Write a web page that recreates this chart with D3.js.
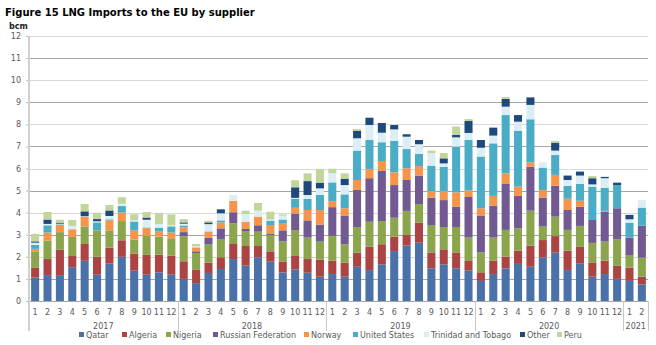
<!DOCTYPE html>
<html lang="en">
<head>
    <meta charset="UTF-8">
    <title>LNG Imports to the EU by supplier</title>
    <script src="https://d3js.org/d3.v7.min.js"></script>
    <style>
        body {
            margin: 0;
            padding: 0;
            background: #fff;
            overflow: hidden;
        }
        text {
            font-family: "DejaVu Sans", Verdana, sans-serif;
        }
        .tick-label {
            font-size: 8px;
            fill: #595959;
        }
    </style>
</head>
<body>
    <svg width="656" height="345"></svg>
    <script>
        // months Jan 2017 .. Feb 2021
        const monthLabels = [
            "1","2","3","4","5","6","7","8","9","10","11","12",
            "1","2","3","4","5","6","7","8","9","10","11","12",
            "1","2","3","4","5","6","7","8","9","10","11","12",
            "1","2","3","4","5","6","7","8","9","10","11","12",
            "1","2"
        ];
        const years = ["2017", "2018", "2019", "2020", "2021"];
        const monthsPerYear = [12, 12, 12, 12, 2];
        const yTicks = [0,1,2,3,4,5,6,7,8,9,10,11,12];

        const suppliers = ["Qatar", "Algeria", "Nigeria", "Russian Federation", "Norway",
            "United States", "Trinidad and Tobago", "Other", "Peru"];
        const colors = ["#4a72a9", "#ab4443", "#8ba54c", "#715a91", "#f6944a",
            "#4bacc6", "#dbeef5", "#1f497d", "#c2d69b"];

        const qatar = [1.06,1.18,1.14,1.53,1.82,1.19,1.7,2.0,1.37,1.19,1.3,1.19,
            1.0,0.81,1.27,1.45,1.9,1.6,1.98,1.78,1.29,1.42,1.28,1.1,
            1.22,1.1,1.55,1.4,1.66,2.26,2.51,2.64,1.48,1.66,1.48,1.39,
            0.91,1.22,1.48,1.68,1.55,1.98,2.19,1.4,1.71,1.1,1.22,1.0,
            0.91,0.75];
        const algeria = [0.44,0.72,1.18,0.51,0.76,0.81,0.72,0.75,0.78,0.9,0.8,0.86,
            0.8,0.62,0.47,0.53,0.68,0.89,0.51,0.47,0.5,0.62,0.62,0.77,
            0.6,0.64,0.64,1.06,0.91,0.65,0.48,0.91,0.72,0.68,0.72,0.42,
            0.39,0.61,0.53,0.6,0.96,0.78,0.75,0.88,0.74,0.65,0.61,0.59,
            0.6,0.35];
        const nigeria = [0.75,0.83,0.8,0.86,0.8,1.19,0.78,0.87,0.63,0.86,0.82,0.79,
            1.13,0.74,0.82,0.83,0.94,0.68,0.65,0.74,0.91,1.15,0.97,0.82,
            1.13,0.83,1.16,1.13,1.05,0.86,1.09,0.84,1.24,1.01,1.15,1.06,
            0.9,1.04,1.21,1.01,1.58,0.61,0.88,0.94,0.95,0.88,0.86,1.22,
            0.57,0.86];
        const russia = [0,0,0,0,0,0,0,0,0,0,0,0,
            0.19,0.08,0.31,0.48,0.5,0.09,0.29,0.07,0.5,0.77,0.78,0.77,
            1.3,1.28,1.68,1.97,2.27,1.48,1.4,1.29,1.24,1.22,0.92,1.84,
            1.65,1.45,2.08,1.47,1.99,1.31,1.4,0.9,0.87,1.04,1.36,1.39,
            0.79,1.45];
        const norway = [0.11,0.37,0.32,0.35,0.44,0,0.45,0.38,0.42,0.35,0.22,0.26,
            0.21,0.18,0.25,0.27,0.52,0.33,0.39,0.38,0.3,0.26,0.47,0.66,
            0.27,0.35,0.45,0.42,0.45,0.58,0.53,0.43,0.3,0.41,0.65,0.3,
            0.35,0.44,0.48,0.42,0.19,0.35,0.49,0.51,0.27,0,0.03,0,
            0,0];
        const unitedStates = [0.18,0.33,0.03,0,0,0.37,0.05,0.3,0.4,0.03,0.18,0.28,
            0.09,0,0.03,0.09,0,0,0,0.2,0.19,0.4,0.51,0.68,
            0.85,0.63,1.33,1.31,0.85,1.42,0.87,0.55,1.15,1.1,2.07,2.28,
            2.34,2.38,2.64,2.53,1.96,1.01,0.9,0.58,0.77,1.51,1.05,1.05,
            0.68,0.82];
        const trinidad = [0.1,0.06,0.03,0.15,0.02,0.05,0.15,0.1,0.05,0.35,0.17,0.04,
            0.08,0.05,0.33,0.32,0.26,0.35,0.27,0.05,0.17,0.05,0.17,0.3,
            0.42,0.42,0.56,0.68,0.43,0.52,0.56,0.44,0.57,0.15,0.42,0.32,
            0.4,0.35,0.38,0.41,0.65,0.24,0.2,0.27,0.37,0.1,0.43,0,
            0.15,0.34];
        const other = [0.06,0.2,0.05,0,0.22,0.1,0.25,0,0,0.1,0,0,
            0.06,0,0.08,0.18,0,0,0,0,0,0.48,0.63,0.26,
            0,0.29,0.34,0.33,0.44,0.2,0.11,0.19,0,0.23,0.11,0.54,
            0.35,0.36,0.35,0.3,0.34,0,0.36,0.2,0.18,0.28,0.06,0.11,
            0.2,0];
        const peru = [0.34,0.34,0.13,0.27,0.33,0.29,0.25,0.3,0.28,0.25,0.5,0.5,
            0.15,0.1,0.07,0,0,0.15,0.35,0.35,0.06,0.32,0.35,0.62,
            0.2,0.24,0.08,0,0,0,0,0,0.11,0.24,0.38,0.09,
            0,0,0.09,0,0,0,0.08,0,0,0.1,0,0,
            0,0];

        const seriesValues = [qatar, algeria, nigeria, russia, norway, unitedStates, trinidad, other, peru];

        // rows for d3.stack
        const rows = monthLabels.map((m, i) => {
            const row = { i: i };
            suppliers.forEach((s, k) => row[s] = seriesValues[k][i]);
            return row;
        });

        const svg = d3.select("svg");
        const plotLeft = 29, plotRight = 648, plotTop = 36, plotBottom = 301;

        const x = d3.scaleBand()
            .domain(d3.range(monthLabels.length))
            .range([plotLeft, plotRight])
            .paddingInner(0.35)
            .paddingOuter(0.17);

        const y = d3.scaleLinear()
            .domain([0, 12])
            .range([plotBottom, plotTop]);

        const color = d3.scaleOrdinal(suppliers, colors);

        // title
        svg.append("text")
            .attr("x", 5)
            .attr("y", 16)
            .attr("font-size", "10px")
            .attr("font-weight", "bold")
            .attr("fill", "#000")
            .text("Figure 15 LNG Imports to the EU by supplier");

        svg.append("text")
            .attr("x", 9)
            .attr("y", 29)
            .attr("font-size", "8px")
            .attr("font-weight", "bold")
            .attr("fill", "#222")
            .text("bcm");

        // gridlines
        svg.append("g")
            .selectAll("line")
            .data(yTicks.filter(d => d > 0))
            .join("line")
            .attr("x1", plotLeft)
            .attr("x2", plotRight)
            .attr("y1", d => Math.round(y(d)) + 0.5)
            .attr("y2", d => Math.round(y(d)) + 0.5)
            .attr("stroke", d => d % 2 ? "#a6a6a6" : "#d9d9d9")
            .attr("stroke-width", 1);

        // y axis
        const yAxis = svg.append("g")
            .attr("transform", `translate(${plotLeft},0)`)
            .call(d3.axisLeft(y).tickValues(yTicks).tickSize(3).tickPadding(5));
        yAxis.select(".domain").remove();
        yAxis.selectAll(".tick line").attr("stroke", "#bfbfbf");
        yAxis.selectAll(".tick text")
            .attr("class", "tick-label")
            .attr("font-family", null)
            .attr("font-size", null);
        yAxis.attr("font-family", null).attr("font-size", null);

        // bars
        const stacked = d3.stack().keys(suppliers)(rows);

        svg.append("g")
            .selectAll("g")
            .data(stacked)
            .join("g")
            .attr("fill", d => color(d.key))
            .selectAll("rect")
            .data(d => d)
            .join("rect")
            .attr("x", d => x(d.data.i))
            .attr("width", x.bandwidth())
            .attr("y", d => y(d[1]))
            .attr("height", d => Math.max(0, y(d[0]) - y(d[1])));

        // baseline and vertical axis
        svg.append("line")
            .attr("x1", plotLeft).attr("x2", plotRight)
            .attr("y1", plotBottom + 0.5).attr("y2", plotBottom + 0.5)
            .attr("stroke", "#a6a6a6");

        svg.append("line")
            .attr("x1", plotLeft).attr("x2", plotLeft)
            .attr("y1", plotTop).attr("y2", 331)
            .attr("stroke", "#d0d0d0")
            .attr("stroke-width", 2);

        // month labels
        svg.append("g")
            .selectAll("text")
            .data(monthLabels)
            .join("text")
            .attr("class", "tick-label")
            .attr("x", (d, i) => x(i) + x.bandwidth() / 2)
            .attr("y", 315)
            .attr("text-anchor", "middle")
            .text(d => d);

        // year separators and labels
        let start = 0;
        const step = x.step();
        const yearPos = years.map((yr, k) => {
            const s = start;
            start += monthsPerYear[k];
            return { yr: yr, x0: plotLeft + s * step, x1: plotLeft + start * step };
        });

        svg.append("g")
            .selectAll("line")
            .data(yearPos)
            .join("line")
            .attr("x1", d => Math.round(d.x1) + 0.5)
            .attr("x2", d => Math.round(d.x1) + 0.5)
            .attr("y1", plotBottom)
            .attr("y2", 331)
            .attr("stroke", "#c8c8c8");

        svg.append("g")
            .selectAll("text")
            .data(yearPos)
            .join("text")
            .attr("class", "tick-label")
            .attr("x", d => (d.x0 + d.x1) / 2)
            .attr("y", 329)
            .attr("text-anchor", "middle")
            .text(d => d.yr);

        // legend
        const legendX = [79, 122, 166, 213, 304, 353, 424, 520, 557];
        const legend = svg.append("g")
            .selectAll("g")
            .data(suppliers)
            .join("g")
            .attr("transform", (d, i) => `translate(${legendX[i]},338)`);

        legend.append("rect")
            .attr("x", 0)
            .attr("y", -6)
            .attr("width", 5)
            .attr("height", 5)
            .attr("fill", d => color(d));

        legend.append("text")
            .attr("class", "tick-label")
            .attr("x", 7)
            .attr("y", 0)
            .text(d => d);
    </script>
</body>
</html>
